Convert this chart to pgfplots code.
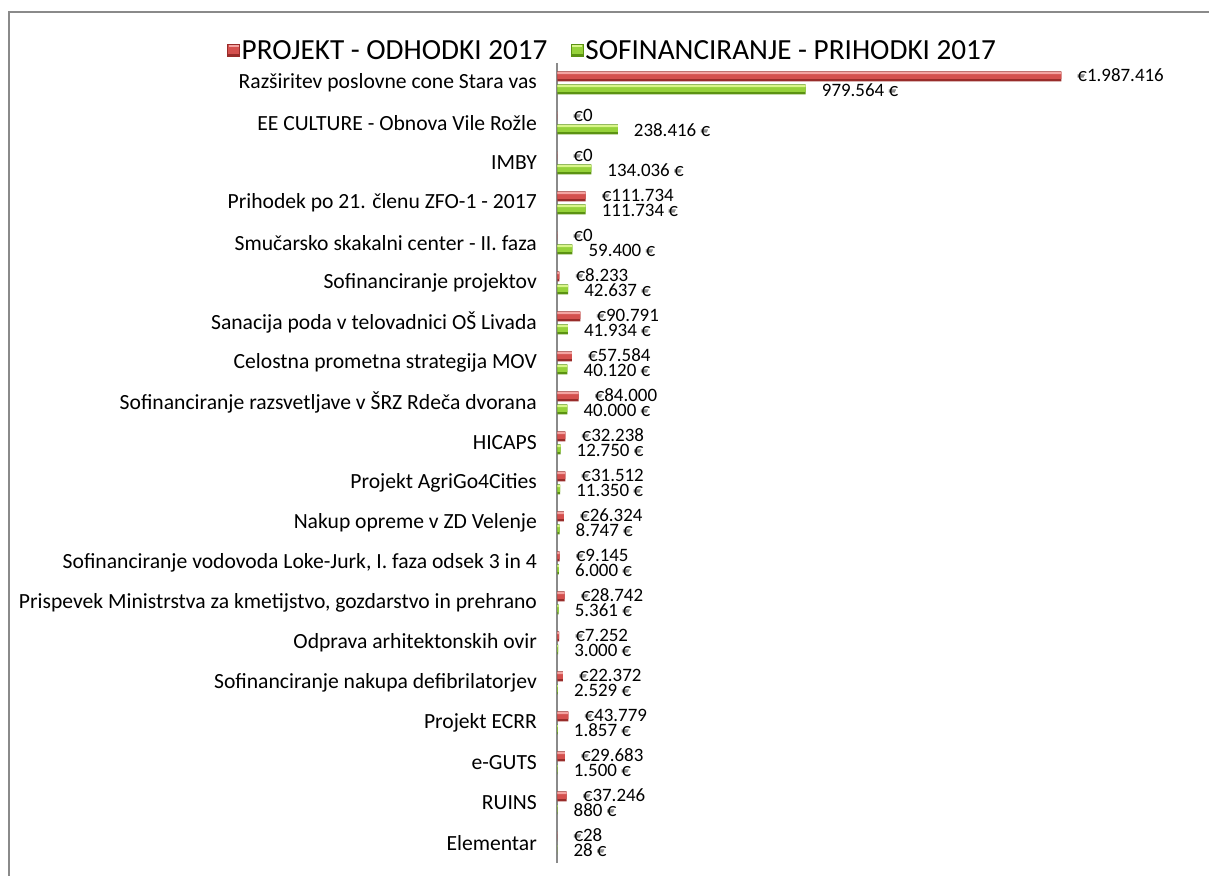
\documentclass[border=0pt]{standalone}
\usepackage{fontspec}
\setmainfont{Carlito}
\usepackage{pgfplots}
\usepackage{pgfplotstable}
\pgfplotsset{compat=1.18}

\definecolor{rtop}{HTML}{F3A3A1}
\definecolor{rmid}{HTML}{D4504E}
\definecolor{rbot}{HTML}{982C2A}
\definecolor{gtop}{HTML}{D9F58A}
\definecolor{gmid}{HTML}{96D23A}
\definecolor{gbot}{HTML}{5B9212}
\definecolor{frame}{HTML}{8A8A8A}

\pgfplotstableread{
y r g rl gl
19 1987416 979564 {€1.987.416} {979.564 €}
18 0 238416 {€0} {238.416 €}
17 0 134036 {€0} {134.036 €}
16 111734 111734 {€111.734} {111.734 €}
15 0 59400 {€0} {59.400 €}
14 8233 42637 {€8.233} {42.637 €}
13 90791 41934 {€90.791} {41.934 €}
12 57584 40120 {€57.584} {40.120 €}
11 84000 40000 {€84.000} {40.000 €}
10 32238 12750 {€32.238} {12.750 €}
9 31512 11350 {€31.512} {11.350 €}
8 26324 8747 {€26.324} {8.747 €}
7 9145 6000 {€9.145} {6.000 €}
6 28742 5361 {€28.742} {5.361 €}
5 7252 3000 {€7.252} {3.000 €}
4 22372 2529 {€22.372} {2.529 €}
3 43779 1857 {€43.779} {1.857 €}
2 29683 1500 {€29.683} {1.500 €}
1 37246 880 {€37.246} {880 €}
0 28 28 {€28} {28 €}
}\data

\begin{document}
\begin{tikzpicture}
\useasboundingbox (0,0) rectangle (1209bp,876bp);
\draw[frame, line width=2bp] (9bp,0) -- (9bp,864bp) -- (1212bp,864bp);
\begin{axis}[
  at={(557.3bp,13bp)}, anchor=south west,
  scale only axis, width=608.6bp, height=800bp,
  xmin=0, xmax=2400000, ymin=-0.5, ymax=19.5,
  xbar, bar width=10bp,
  hide x axis,
  axis y line*=left,
  y axis line style={frame, line width=1.7bp},
  ytick={0,...,19},
  ytick style={draw=none},
  yticklabels={Elementar, RUINS, e-GUTS, Projekt ECRR, Sofinanciranje nakupa defibrilatorjev, Odprava arhitektonskih ovir, {Prispevek Ministrstva za kmetijstvo, gozdarstvo in prehrano}, {Sofinanciranje vodovoda Loke-Jurk, I. faza odsek 3 in 4}, Nakup opreme v ZD Velenje, Projekt AgriGo4Cities, HICAPS, Sofinanciranje razsvetljave v ŠRZ Rdeča dvorana, Celostna prometna strategija MOV, Sanacija poda v telovadnici OŠ Livada, Sofinanciranje projektov, Smučarsko skakalni center - II. faza, {Prihodek po 21. členu ZFO-1 - 2017}, IMBY, EE CULTURE - Obnova Vile Rožle, Razširitev poslovne cone Stara vas},
  yticklabel style={font=\fontsize{21.7}{21.7}\selectfont, anchor=east, inner sep=0pt, xshift=-16bp},
  clip=false,
  point meta=explicit symbolic,
  every node near coord/.append style={font=\fontsize{19}{19}\selectfont, anchor=west, inner sep=0pt, xshift=16bp, text=black},
  legend columns=2,
  legend cell align=left,
  legend style={at={(-0.5476,1.0155)}, anchor=west, draw=none, fill=none,
    font=\fontsize{29.3}{29.3}\selectfont,
    nodes={inner sep=1.5bp},
    /tikz/every even column/.append style={column sep=22bp}},
]
% PROJEKT - ODHODKI 2017 (red), layered for a 3D look
\addplot[draw=none, fill=rbot, bar shift=6.5bp, bar width=10bp,
  nodes near coords,
  every node near coord/.append style={yshift=1bp},
  legend image code/.code={
    \fill[rbot] (0bp,-6.5bp) rectangle (13bp,6.5bp);
    \fill[rmid] (0.8bp,-3.5bp) rectangle (12.2bp,5.8bp);
    \fill[rtop] (1.5bp,3.2bp) rectangle (11.5bp,5.6bp);}]
  table[x=r, y=y, meta=rl] {\data};
\addlegendentry{PROJEKT - ODHODKI 2017}
\addplot[draw=none, fill=rmid, bar shift=7.6bp, bar width=7.2bp, forget plot]
  table[x=r, y=y] {\data};
\addplot[draw=none, fill=rtop, bar shift=9.8bp, bar width=2bp, forget plot]
  table[x=r, y=y] {\data};
% SOFINANCIRANJE - PRIHODKI 2017 (green)
\addplot[draw=none, fill=gbot, bar shift=-6.5bp, bar width=10bp,
  nodes near coords,
  every node near coord/.append style={yshift=-1bp},
  legend image code/.code={
    \fill[gbot] (0bp,-6.5bp) rectangle (13bp,6.5bp);
    \fill[gmid] (0.8bp,-3.5bp) rectangle (12.2bp,5.8bp);
    \fill[gtop] (1.5bp,3.2bp) rectangle (11.5bp,5.6bp);}]
  table[x=g, y=y, meta=gl] {\data};
\addlegendentry{SOFINANCIRANJE - PRIHODKI 2017}
\addplot[draw=none, fill=gmid, bar shift=-5.4bp, bar width=7.2bp, forget plot]
  table[x=g, y=y] {\data};
\addplot[draw=none, fill=gtop, bar shift=-3.2bp, bar width=2bp, forget plot]
  table[x=g, y=y] {\data};
\end{axis}
\end{tikzpicture}
\end{document}
